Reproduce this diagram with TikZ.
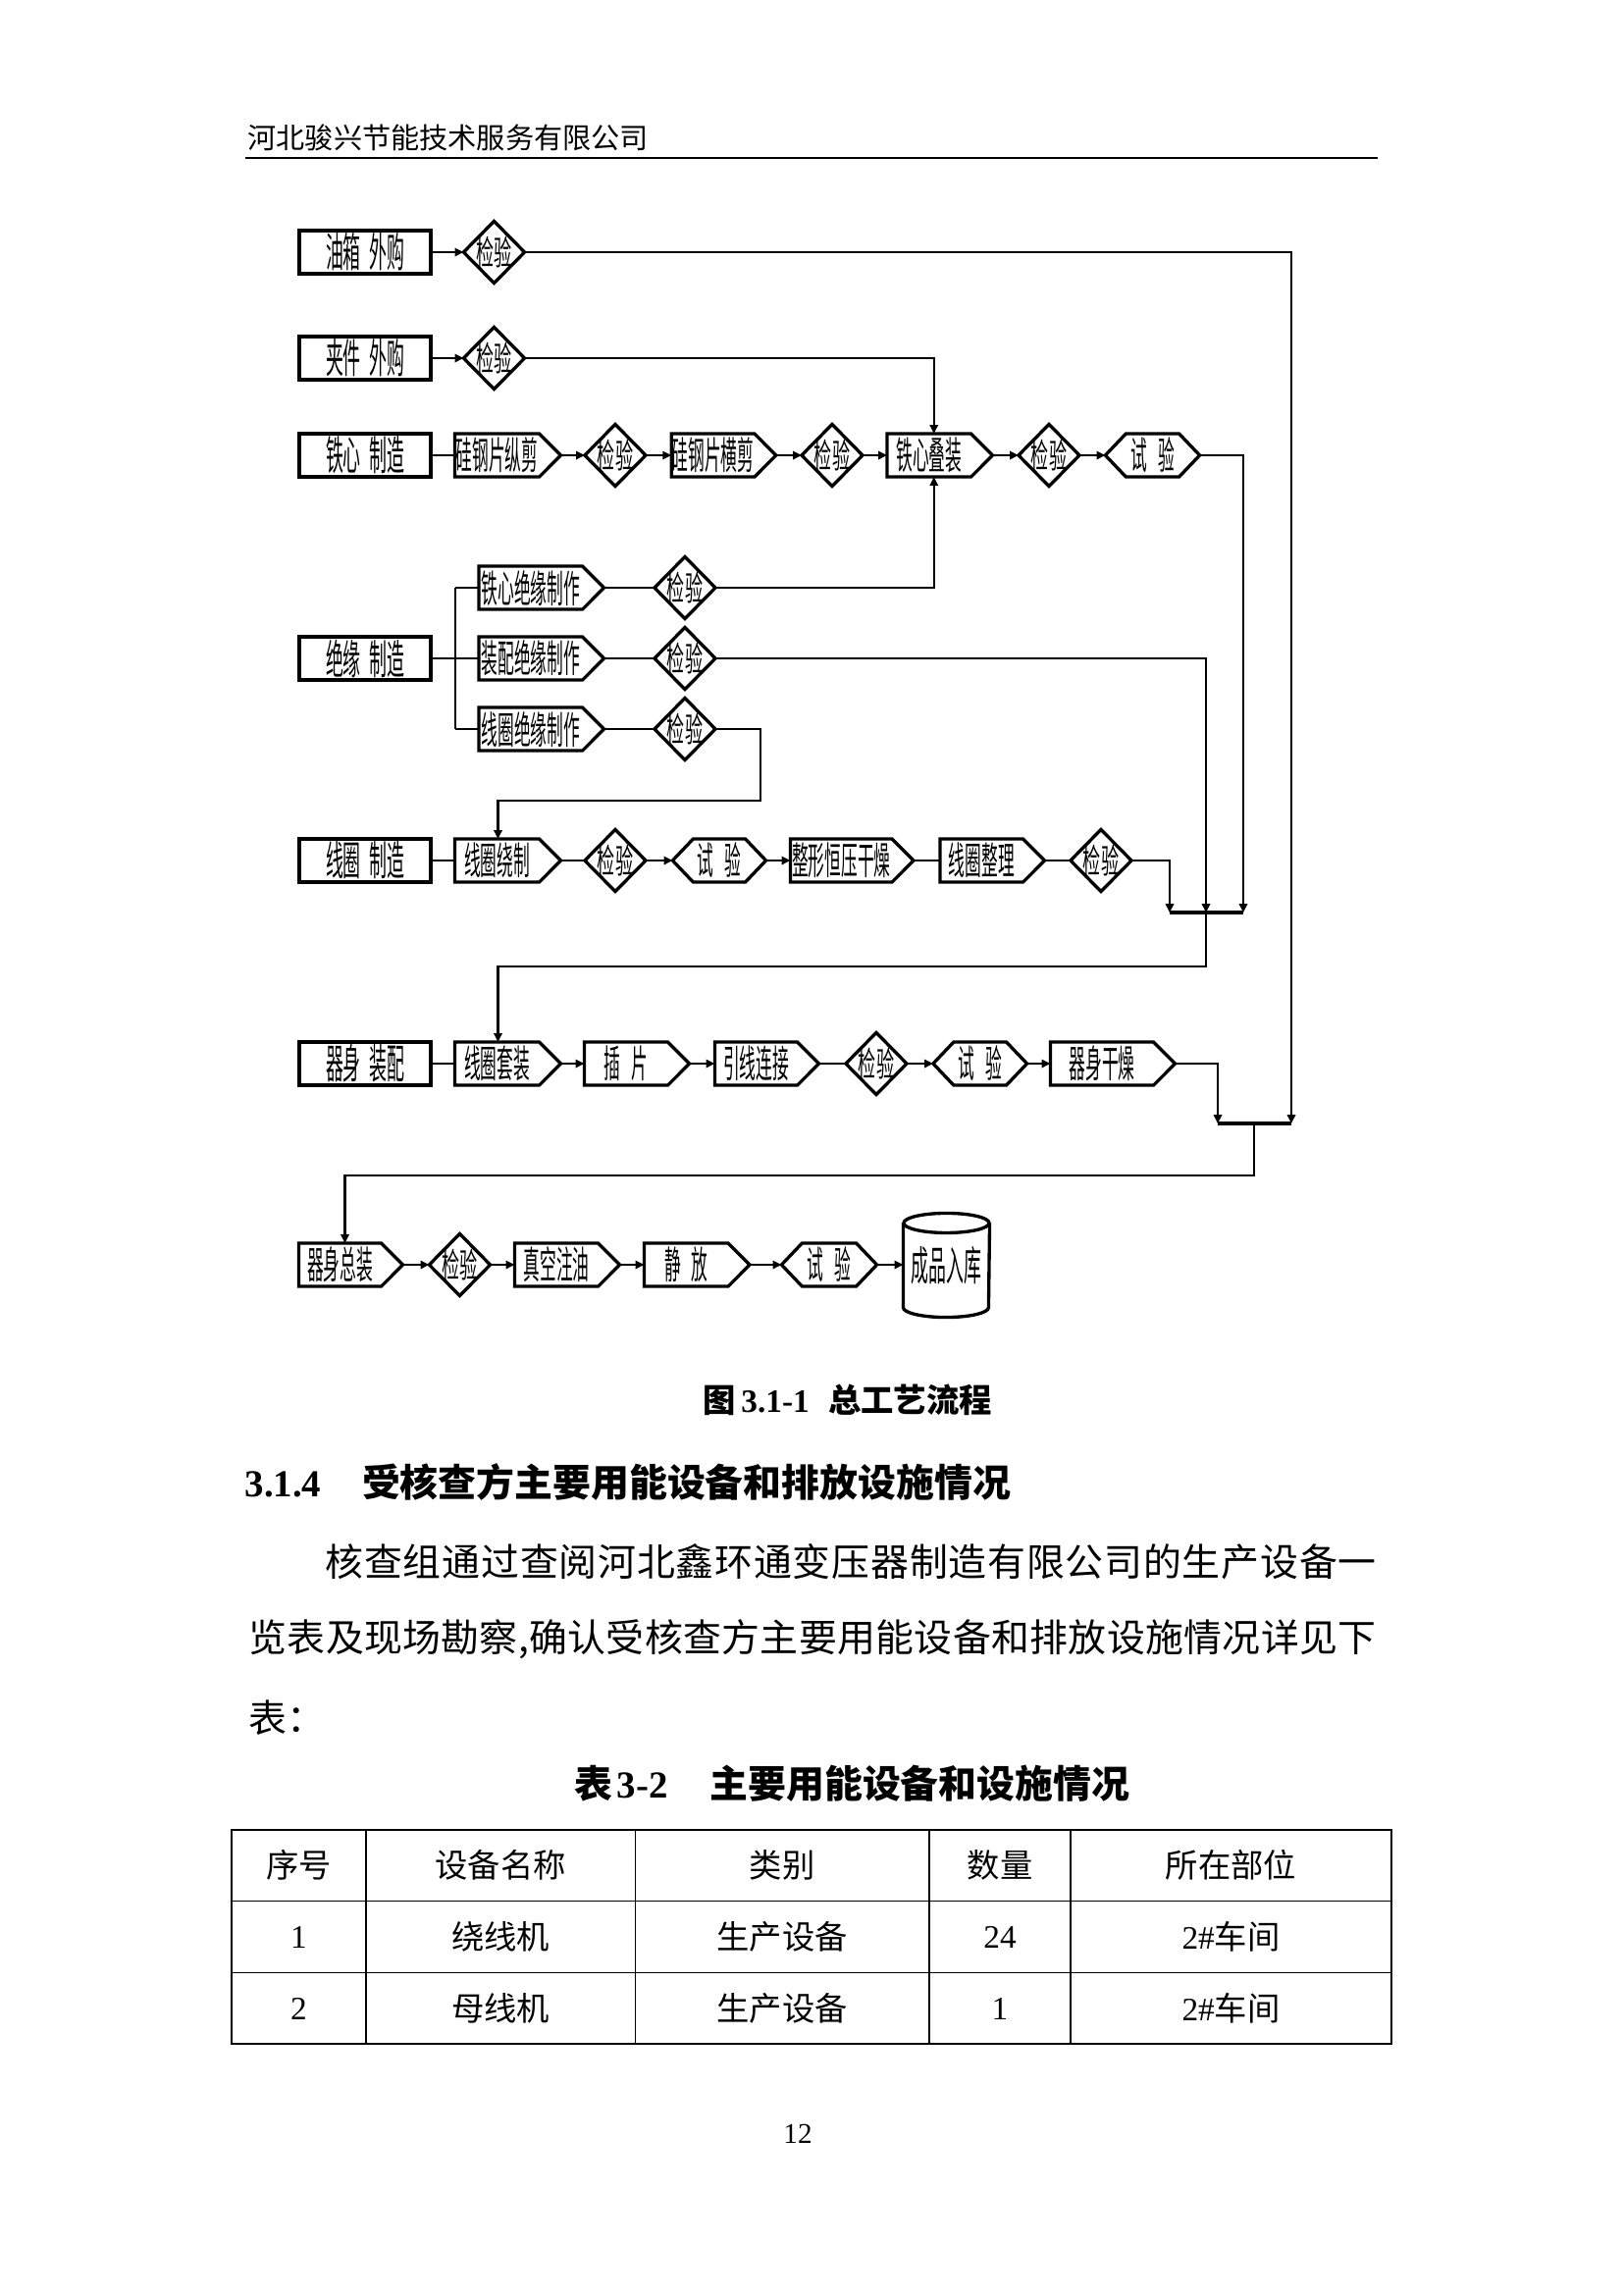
\documentclass[tikz,border=0pt]{standalone}
\usepackage{fontspec}
\setmainfont{Liberation Serif}
\newfontfamily\cjk{Noto Sans CJK SC}
\newfontfamily\cjkn[FakeStretch=0.43]{Noto Sans CJK SC}
\newfontfamily\cjkd[FakeStretch=0.52]{Noto Sans CJK SC}
\usetikzlibrary{calc,arrows.meta}
\def\pu{0.36pt}
\def\sprd#1{\ifx#1\relax\else#1\hfill\expandafter\sprd\fi}
\tikzset{
  shp/.style={line width=1.2pt},
  con/.style={line width=0.75pt},
  arr/.style={line width=0.75pt,-{Triangle[length=3.2pt,width=3pt]}},
  bar/.style={line width=1.2pt},
  sbox/.style={draw,line width=1.2pt,rectangle,inner sep=0pt,minimum width=134*\pu,minimum height=44*\pu,font=\cjkn\fontsize{15}{15}\selectfont},
  lbl/.style={rectangle,inner sep=0pt,minimum height=43*\pu,font=\cjkn\fontsize{14}{14}\selectfont},
  dlbl/.style={rectangle,inner sep=0pt,minimum width=61*\pu,minimum height=62*\pu,font=\cjkd\fontsize{12.5}{12.5}\selectfont},
  txt/.style={inner sep=0pt,anchor=west},
  cell/.style={inner sep=0pt,font=\cjk\fontsize{12}{12}\selectfont},
}
\newcommand\mkpent[5]{%
  \node[lbl,minimum width={(#3-#2)*\pu}] (#1) at ({(#2+#3)/2},#4) {#5\kern7.9pt};
  \draw[shp] (#1.north west) -- ($(#1.north east)+(-22,0)$) -- (#1.east) -- ($(#1.south east)+(-22,0)$) -- (#1.south west) -- cycle;}
\newcommand\mkhex[5]{%
  \node[lbl,minimum width={(#3-#2)*\pu}] (#1) at ({(#2+#3)/2},#4) {#5};
  \draw[shp] (#1.west) -- ($(#1.north west)+(21,0)$) -- ($(#1.north east)+(-21,0)$) -- (#1.east) -- ($(#1.south east)+(-21,0)$) -- ($(#1.south west)+(21,0)$) -- cycle;}
\newcommand\mkdia[3]{%
  \node[dlbl] (#1) at (#2,#3) {检验};
  \draw[shp] (#1.north) -- (#1.east) -- (#1.south) -- (#1.west) -- cycle;}
\begin{document}
\begin{tikzpicture}[x=0.36pt,y=0.36pt]
\fill[white] (0,0) rectangle (1654,-2339);
\useasboundingbox (0,0) rectangle (1654,-2339);

% header
\node[txt] (hd) at (252,-140) {\cjk\fontsize{10.5}{10.5}\selectfont 河北骏兴节能技术服务有限公司};
\coordinate (hl) at (250,-161);
\coordinate (hr) at (1404,-161);
\draw[line width=0.8pt] (hl) -- (hr);

% ---- flowchart ----
% row 1
\node[sbox] (b1) at (372,-257) {油箱\hspace{3pt}外购};
\mkdia{d1}{503.5}{-257}
% row 2
\node[sbox] (b2) at (372,-365) {夹件\hspace{3pt}外购};
\mkdia{d2}{503.5}{-365}
% row 3
\node[sbox] (b3) at (372,-464) {铁心\hspace{3pt}制造};
\mkpent{p1}{464}{571}{-464}{硅钢片纵剪}
\mkdia{d3}{627}{-464}
\mkpent{p2}{685}{790}{-464}{硅钢片横剪}
\mkdia{d4}{848}{-464}
\mkpent{p3}{904.5}{1011}{-464}{铁心叠装}
\mkdia{d5}{1069}{-464}
\mkhex{h1}{1127}{1222}{-464}{试\hspace{4pt}验}
% insulation
\node[sbox] (b4) at (372,-671) {绝缘\hspace{3pt}制造};
\mkpent{p4}{488.5}{615}{-599}{铁心绝缘制作}
\mkpent{p5}{488.5}{615}{-671}{装配绝缘制作}
\mkpent{p6}{488.5}{615}{-743}{线圈绝缘制作}
\mkdia{d6}{698}{-599}
\mkdia{d7}{698}{-671}
\mkdia{d8}{698}{-743}
% coil row
\node[sbox] (b5) at (372,-877) {线圈\hspace{3pt}制造};
\mkpent{p7}{464}{571}{-877}{线圈绕制}
\mkdia{d9}{627}{-877}
\mkhex{h2}{686}{780}{-877}{试\hspace{4pt}验}
\mkpent{p8}{806}{930.5}{-877}{整形恒压干燥}
\mkpent{p9}{958.5}{1064}{-877}{线圈整理}
\mkdia{d10}{1122}{-877}
% body row
\node[sbox] (b6) at (372,-1084) {器身\hspace{3pt}装配};
\mkpent{p10}{464}{571}{-1084}{线圈套装}
\mkpent{p11}{596}{702}{-1084}{插\hspace{4pt}片}
\mkpent{p12}{729}{834}{-1084}{引线连接}
\mkdia{d11}{893}{-1084}
\mkhex{h3}{951.5}{1046}{-1084}{试\hspace{4pt}验}
\mkpent{p13}{1071}{1197}{-1084}{器身干燥}
% bottom row
\mkpent{p14}{305}{410}{-1289}{器身总装}
\mkdia{d12}{468.5}{-1289}
\mkpent{p15}{525}{631}{-1289}{真空注油}
\mkpent{p16}{657}{763.5}{-1289}{静\hspace{4pt}放}
\mkhex{h4}{797}{893}{-1289}{试\hspace{4pt}验}
\node[lbl,minimum width=87*\pu,minimum height=85*\pu,font=\cjkn\fontsize{15}{15}\selectfont] (cyl) at (964.5,-1289.5) {\raisebox{-3pt}{成品入库}};
\draw[shp] (cyl.north west) -- (cyl.south west) arc[start angle=180,end angle=360,x radius=43.5,y radius=10] -- (cyl.north east);
\draw[shp] (cyl.north) ellipse[x radius=43.5,y radius=10];

% ---- connectors ----
\coordinate (r1) at (1316,-257);
\coordinate (j2r) at (1316,-1145);
\coordinate (j2l) at (1241,-1145);
\coordinate (j2m) at (1278,-1145);
\coordinate (j2d) at (1278,-1198);
\coordinate (j1r) at (1267,-930);
\coordinate (j1m) at (1229,-930);
\coordinate (j1l) at (1192,-930);
\coordinate (j1d) at (1229,-985);
\coordinate (bt) at (464,-599);
\coordinate (bb) at (464,-743);
\coordinate (k1) at (775,-743);
\coordinate (k2) at (775,-816);

\draw[arr] (b1.east) -- (d1.west);
\draw[arr] (d1.east) -- (r1) -- (j2r);
\draw[arr] (b2.east) -- (d2.west);
\draw[arr] (d2.east) -| ($(p3.north)+(-6,0)$);

\draw[con] (b3.east) -- (p1.west);
\draw[arr] (p1.east) -- (d3.west);
\draw[arr] (d3.east) -- (p2.west);
\draw[arr] (p2.east) -- (d4.west);
\draw[arr] (d4.east) -- (p3.west);
\draw[arr] (p3.east) -- (d5.west);
\draw[arr] (d5.east) -- (h1.west);
\draw[arr] (h1.east) -| (j1r);

\draw[con] (b4.east) -- (p5.west);
\draw[con] (bt) -- (bb);
\draw[con] (bt) -- (p4.west);
\draw[con] (bb) -- (p6.west);
\draw[con] (p4.east) -- (d6.west);
\draw[con] (p5.east) -- (d7.west);
\draw[con] (p6.east) -- (d8.west);
\draw[arr] (d6.east) -| ($(p3.south)+(-6,0)$);
\draw[arr] (d7.east) -| (j1m);
\draw[arr] (d8.east) -- (k1) -- (k2) -| ($(p7.north)+(-10,0)$);

\draw[con] (b5.east) -- (p7.west);
\draw[con] (p7.east) -- (d9.west);
\draw[arr] (d9.east) -- (h2.west);
\draw[arr] (h2.east) -- (p8.west);
\draw[con] (p8.east) -- (p9.west);
\draw[con] (p9.east) -- (d10.west);
\draw[arr] (d10.east) -| (j1l);
\draw[bar] (j1l) -- (j1r);
\draw[arr] (j1m) -- (j1d) -| ($(p10.north)+(-10,0)$);

\draw[con] (b6.east) -- (p10.west);
\draw[arr] (p10.east) -- (p11.west);
\draw[arr] (p11.east) -- (p12.west);
\draw[con] (p12.east) -- (d11.west);
\draw[arr] (d11.east) -- (h3.west);
\draw[arr] (h3.east) -- (p13.west);
\draw[arr] (p13.east) -| (j2l);
\draw[bar] (j2l) -- (j2r);
\draw[arr] (j2m) -- (j2d) -| ($(p14.north)+(-6,0)$);

\draw[arr] (p14.east) -- (d12.west);
\draw[arr] (d12.east) -- (p15.west);
\draw[arr] (p15.east) -- (p16.west);
\draw[arr] (p16.east) -- (h4.west);
\draw[arr] (h4.east) -- (h4.east -| cyl.west);

% ---- captions and text ----
\node[txt] (cap) at (716,-1427) {\fontsize{12}{12}\selectfont{\cjk\bfseries 图}\hspace{2pt}{\bfseries 3.1-1}\hspace{7pt}{\cjk\bfseries 总工艺流程}};
\node[txt] (sec) at (249,-1510) {\fontsize{14}{14}\selectfont{\bfseries 3.1.4}\hspace{15pt}{\cjk\bfseries 受核查方主要用能设备和排放设施情况}};
\node[txt] (l1) at (331,-1592) {\cjk\fontsize{14}{14}\selectfont\hbox to 385.6pt{\sprd 核查组通过查阅河北鑫环通变压器制造有限公司的生产设备一\relax\unskip}};
\node[txt] (l2) at (253,-1671) {\cjk\fontsize{14}{14}\selectfont\hbox to 413.6pt{\sprd 览表及现场勘察,确认受核查方主要用能设备和排放设施情况详见下\relax\unskip}};
\node[txt] (l3) at (253,-1751) {\cjk\fontsize{14}{14}\selectfont 表：};
\node[txt] (tcap) at (585,-1818) {\fontsize{14}{14}\selectfont{\cjk\bfseries 表}\hspace{1.5pt}{\bfseries 3-2}\hspace{15.5pt}{\cjk\bfseries 主要用能设备和设施情况}};

% ---- table ----
\coordinate (tl) at (236,-1865);
\coordinate (br) at (1418,-2083);
\draw[line width=0.6pt] (tl) rectangle (br);
\draw[line width=0.8pt] (236,-1865) -- (1418,-1865);
\draw[line width=0.8pt] (236,-2083) -- (1418,-2083);
\draw[line width=0.5pt] (236,-1937.5) -- (1418,-1937.5);
\draw[line width=0.5pt] (236,-2010.5) -- (1418,-2010.5);
\foreach \cx in {373,647.5,947,1091} \draw[line width=0.5pt] (\cx,-1865) -- (\cx,-2083);
\node[cell] (c11) at (304.5,-1901) {序号};
\node[cell] (c12) at (510,-1901) {设备名称};
\node[cell] (c13) at (797,-1901) {类别};
\node[cell] (c14) at (1019,-1901) {数量};
\node[cell] (c15) at (1254.5,-1901) {所在部位};
\node[cell] (c21) at (304.5,-1974) {\rmfamily 1};
\node[cell] (c22) at (510,-1974) {绕线机};
\node[cell] (c23) at (797,-1974) {生产设备};
\node[cell] (c24) at (1019,-1974) {\rmfamily 24};
\node[cell] (c25) at (1254.5,-1974) {{\rmfamily 2\#}车间};
\node[cell] (c31) at (304.5,-2047) {\rmfamily 2};
\node[cell] (c32) at (510,-2047) {母线机};
\node[cell] (c33) at (797,-2047) {生产设备};
\node[cell] (c34) at (1019,-2047) {\rmfamily 1};
\node[cell] (c35) at (1254.5,-2047) {{\rmfamily 2\#}车间};

% page number
\node[inner sep=0pt] (pg) at (813,-2175) {\fontsize{10.5}{10.5}\selectfont 12};
\end{tikzpicture}
\end{document}
